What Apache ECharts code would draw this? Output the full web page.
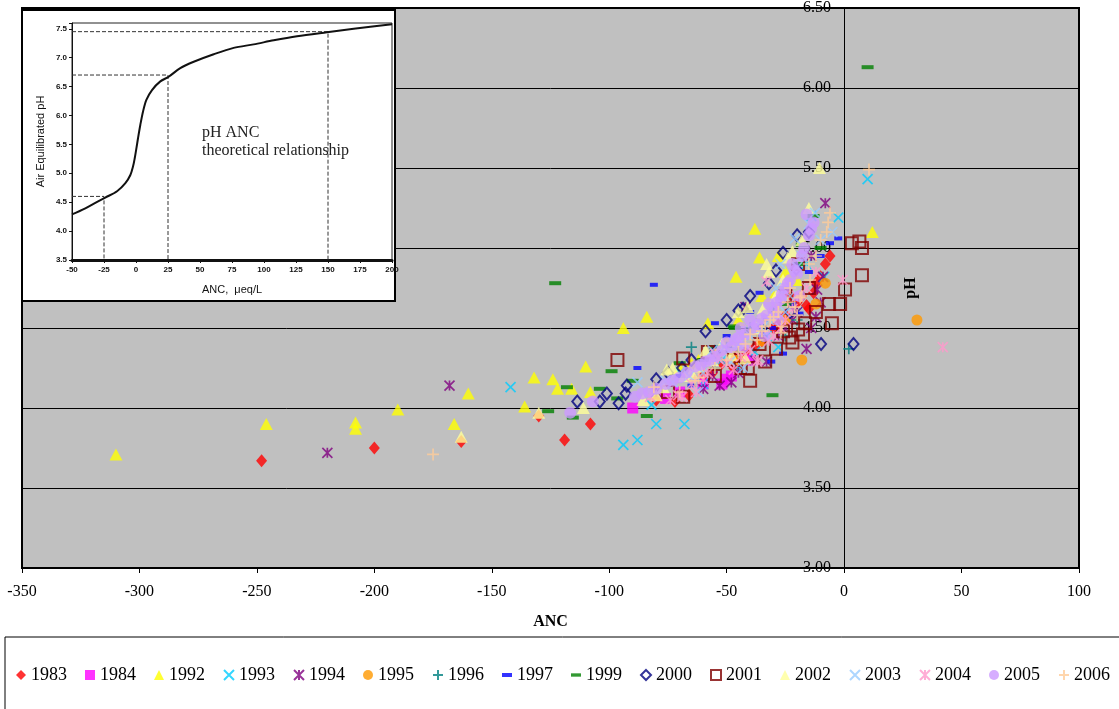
<!DOCTYPE html>
<html><head><meta charset="utf-8">
<script src="https://cdn.jsdelivr.net/npm/echarts@6/dist/echarts.min.js"></script>
<style>html,body{margin:0;padding:0;background:#fff}#c{width:1119px;height:709px}</style>
</head><body><div id="c"></div>
<script>
// ---------- main chart data: [ANC, pH] ----------
const d1983 = [[-248,3.67],[-200,3.75],[-163,3.79],[-130,3.95],[-119,3.80],[-108,3.90],[-72,4.04],[-66,4.08],[-60,4.20],[-52,4.28],[-47,4.25],[-46,4.32],[-42,4.35],[-38,4.38],[-35,4.42],[-30,4.50],[-25,4.58],[-23,4.71],[-20,4.66],[-16,4.64],[-15,4.62],[-12,4.78],[-10,4.82],[-8,4.90],[-80,4.05],[-56,4.22],[-44,4.29],[-28,4.52],[-18,4.70],[-13,4.72],[-6,4.95]];
const d1984 = [[-90,4.00],[-76,4.06],[-52,4.15],[-50,4.18],[-48,4.20],[-40,4.30],[-70,4.10],[-60,4.15]];
const d1992 = [[-310,3.71],[-246,3.90],[-208,3.91],[-208,3.87],[-190,3.99],[-166,3.90],[-160,4.09],[-136,4.01],[-132,4.19],[-124,4.18],[-122,4.12],[-116,4.12],[-110,4.26],[-108,4.10],[-94,4.50],[-84,4.57],[-58,4.53],[-46,4.82],[-38,5.12],[-36,4.94],[12,5.10],[-70,4.25],[-62,4.30],[-55,4.35],[-30,4.70],[-25,4.85],[-20,4.80],[-45,4.55],[-35,4.70],[-50,4.42],[-28,4.95],[-65,4.28]];
const d1993 = [[-142,4.13],[-94,3.77],[-88,3.80],[-82,4.02],[-80,3.90],[-68,3.90],[-60,4.15],[-45,4.25],[-38,4.35],[-28,4.38],[-20,4.60],[-8.5,4.82],[-2.5,5.19],[10,5.43],[-14,5.20],[-70,4.22],[-52,4.30],[-33,4.45],[-16,4.90],[-24,4.75]];
const d1994 = [[-220,3.72],[-168,4.14],[-80,4.10],[-53,4.14],[-48,4.16],[-33,4.29],[-42,4.63],[-16,4.37],[-12,4.57],[-10,4.66],[-11.5,4.74],[-8,5.28],[-20,4.60],[-25,4.50],[-56,4.20],[-45,4.22],[-38,4.30],[-28,4.45],[-22,4.55],[-14,4.50],[-9,4.82],[-14,4.95],[-60,4.12]];
const d1995 = [[31,4.55],[-18,4.30],[-8,4.78],[-35,4.42],[-45,4.30],[-25,4.55],[-12,4.65]];
const d1996 = [[-65,4.38],[2,4.37],[-40,4.50],[-30,4.60],[-25,4.45],[-55,4.25],[-50,4.38],[-45,4.35],[-35,4.45],[-20,4.55]];
const d1997 = [[-81,4.77],[-88,4.25],[-65,4.14],[-55,4.53],[-50,4.45],[-36,4.72],[-31,4.29],[-26,4.34],[-19,4.59],[-6,5.03],[-2.5,5.06],[-45,4.40],[-40,4.60],[-70,4.20],[-60,4.30],[-30,4.50],[-22,4.65],[-15,4.85],[-10,4.95]];
const d1999 = [[10,6.13],[-123,4.78],[-99,4.23],[-118,4.13],[-126,3.98],[-115.5,3.94],[-104,4.12],[-96.6,4.06],[-84,3.95],[-90,4.17],[-47,4.51],[-46.5,4.50],[-30.5,4.08],[-13,5.20],[-18,5.02],[-60,4.30],[-35,4.55],[-70,4.28],[-55,4.38],[-40,4.48],[-25,4.65],[-20,4.90],[-10,5.00]];
const d2000 = [[-113.6,4.04],[-104,4.04],[-101,4.09],[-96,4.03],[-93,4.09],[-92.5,4.14],[-69,4.25],[-59,4.48],[-50,4.55],[-45,4.61],[-43,4.62],[-29,4.86],[-26,4.97],[-20,5.08],[-20.4,4.87],[-9.8,4.40],[4,4.40],[-35,4.50],[-65,4.30],[-80,4.18],[-75,4.22],[-55,4.35],[-40,4.70],[-32,4.78],[-15,5.10],[-23,4.60]];
const d2001 = [[-96.5,4.30],[-68.5,4.31],[-68.5,4.07],[-44,4.25],[-41,4.25],[-33.6,4.29],[-29,4.37],[-23.4,4.44],[-22,4.41],[-19.6,4.49],[-17.5,4.46],[-16.6,4.53],[-19.6,4.90],[-6.4,4.65],[-5.2,4.53],[-1.7,4.65],[0.4,4.74],[3.3,5.03],[6.5,5.04],[7.6,5.00],[7.6,4.83],[-40,4.17],[-58,4.35],[-75,4.10],[-55,4.20],[-47,4.30],[-36,4.40],[-26,4.48],[-12,4.60],[-15,4.75],[-25,4.70]];
const d2002 = [[-163,3.82],[-130,3.97],[-111,4.00],[-85.6,4.05],[-77,4.13],[-75.5,4.24],[-73,4.25],[-59,4.36],[-42,4.31],[-41,4.63],[-34.5,4.62],[-32,4.85],[-29,4.70],[-28,4.70],[-24,4.94],[-15,5.25],[-10.5,5.50],[-52,4.40],[-65,4.22],[-38,4.50],[-80,4.08],[-68,4.20],[-62,4.26],[-56,4.30],[-48,4.33],[-45,4.42],[-36,4.56],[-26,4.80],[-22,4.98],[-18,5.05],[-33,4.90],[-45,4.60]];
const d2003 = [[-88,4.16],[-76,4.17],[-73,4.16],[-56,4.36],[-51,4.38],[-48.5,4.29],[-43,4.25],[-29,4.75],[-21,5.06],[-20,4.88],[-15,5.15],[-12.4,5.22],[-35,4.50],[-25,4.60],[-40,4.45],[-5,5.10],[-66,4.20],[-60,4.22],[-53,4.30],[-45,4.40],[-32,4.55],[-23,4.70],[-18,4.95],[-10,5.05],[-27,4.90],[-62,4.10]];
const d2004 = [[42,4.38],[-0.6,4.80],[-82.6,4.07],[-74,4.05],[-70.7,4.08],[-69,4.07],[-63,4.10],[-55,4.34],[-53.6,4.31],[-47,4.24],[-40,4.36],[-37,4.29],[-36.6,4.30],[-33,4.79],[-28.6,4.62],[-25,4.55],[-20,4.70],[-30,4.45],[-60,4.18],[-50,4.28],[-44,4.32],[-32,4.42],[-27,4.50],[-22,4.62],[-16,4.75],[-12,4.85],[-65,4.15],[-58,4.22]];
const d2005 = [[-116.6,3.97],[-107,4.04],[-89,4.07],[-86,4.09],[-83,4.10],[-70,4.19],[-63.4,4.26],[-59,4.29],[-52,4.36],[-50,4.41],[-46.4,4.425],[-42,4.46],[-38.7,4.50],[-35,4.56],[-28.6,4.66],[-26.5,4.71],[-25,4.75],[-23,4.80],[-20,4.84],[-15,5.08],[-13,5.16],[-16,5.21],[-30,4.60],[-40,4.55],[-55,4.32],[-44,4.50],[-32,4.65],[-22,4.90],[-80,4.12],[-76,4.15],[-73,4.17],[-67,4.22],[-61,4.27],[-57,4.30],[-48,4.38],[-45,4.44],[-37,4.52],[-33,4.58],[-27,4.68],[-24,4.78],[-21,4.86],[-18,4.95],[-17,5.00],[-14,5.12],[-19,4.70],[-34,4.45],[-43,4.38],[-28,4.55]];
const d2006 = [[-175,3.71],[10.6,5.49],[-81,4.13],[-63.5,4.17],[-62,4.19],[-37,4.425],[-35,4.48],[-33.6,4.51],[-31.5,4.55],[-30,4.57],[-27,4.47],[-26.5,4.51],[-21,4.63],[-18.7,4.69],[-18,4.70],[-14.5,4.80],[-15,4.90],[-7.4,5.10],[-6.8,5.16],[-6,5.22],[-45,4.35],[-50,4.30],[-70,4.10],[-55,4.25],[-42,4.40],[-40,4.46],[-28,4.60],[-24,4.66],[-23,4.75],[-12,4.95],[-10,5.05],[-20,4.58]];

const years = ['1983','1984','1992','1993','1994','1995','1996','1997','1999','2000','2001','2002','2003','2004','2005','2006'];
const seriesData = [d1983,d1984,d1992,d1993,d1994,d1995,d1996,d1997,d1999,d2000,d2001,d2002,d2003,d2004,d2005,d2006];
const xTicks = {min:-350, max:100, step:50};
const yTicks = {min:3, max:6.5, step:0.5};

// ---------- inset (theoretical curve) data ----------
const insetCurve = [[-50,4.29],[-40,4.39],[-30,4.51],[-24,4.58],[-14.8,4.69],[-8.3,4.83],[-4.4,4.97],[-2.3,5.12],[-1,5.26],[0.3,5.43],[1.6,5.61],[3.4,5.84],[5.5,6.07],[8.1,6.27],[12.5,6.44],[19,6.59],[25.5,6.67],[34.6,6.82],[45.1,6.93],[60.7,7.06],[76.3,7.17],[91.9,7.23],[107.6,7.30],[125.8,7.37],[149.2,7.44],[170.1,7.50],[200,7.58]];
const insetRefs = [[-25,4.6],[25,6.7],[150,7.45]];
const insetX = {min:-50, max:200, step:25};
const insetY = {min:3.5, max:7.6, step:0.5};

// ---------- styles ----------
const X_PATH = 'path://M0,0L10,10M10,0L0,10';
const PLUS_PATH = 'path://M5,0L5,10M0,5L10,5';
const AST_PATH = 'path://M0,0L10,10M10,0L0,10M5,0L5,10';
const styles = [
  {c:'#FF0000', s:'diamond', z:[11,13]},
  {c:'#FF00FF', s:'rect', z:11},
  {c:'#FFFF00', s:'triangle', z:[13,12]},
  {c:'#00CCFF', s:X_PATH, z:10, line:true},
  {c:'#800080', s:AST_PATH, z:10, line:true},
  {c:'#FF9900', s:'circle', z:11},
  {c:'#008080', s:PLUS_PATH, z:11, line:true},
  {c:'#0000FF', s:'rect', z:[8,4], icon:'path://M0,0h10v4h-10z'},
  {c:'#008000', s:'rect', z:[12,4], icon:'path://M0,0h12v4h-12z'},
  {c:'#000080', s:'diamond', z:[10,12], hollow:true},
  {c:'#800000', s:'rect', z:12, hollow:true},
  {c:'#FFFF99', s:'triangle', z:[13,12]},
  {c:'#99CCFF', s:X_PATH, z:10, line:true},
  {c:'#FF99CC', s:AST_PATH, z:10, line:true},
  {c:'#CC99FF', s:'circle', z:12},
  {c:'#FFCC99', s:PLUS_PATH, z:12, line:true}
];

const serif = '"Liberation Serif","Times New Roman",serif';
const sans = '"Liberation Sans",Arial,sans-serif';

const mainSeries = years.map((y,i) => {
  const st = styles[i];
  let itemStyle;
  if (st.line) itemStyle = {color: st.c, borderColor: st.c, borderWidth: 1.7};
  else if (st.hollow) itemStyle = {color: 'rgba(0,0,0,0)', borderColor: st.c, borderWidth: 2};
  else itemStyle = {color: st.c, borderWidth: 0};
  return {
    name: y, type: 'scatter', xAxisIndex: 0, yAxisIndex: 0,
    symbol: st.s, symbolSize: st.z, itemStyle: itemStyle,
    data: seriesData[i], z: 2 + i * 0.01, emphasis: {disabled: true}
  };
});

const refSeries = insetRefs.map(p => ({
  type: 'line', xAxisIndex: 1, yAxisIndex: 1, zlevel: 1, z: 4, symbol: 'none', silent: true,
  lineStyle: {color: '#333', width: 1, type: [4, 2]},
  data: [[insetX.min, p[1]], [p[0], p[1]], [p[0], insetY.min]]
}));

// main grid pixel box (left/right edges) used to place the y axis at ANC = 0
const gridLeft = 22, gridRight = 40, chartW = 1119;
const zeroOffset = -((0 - xTicks.min) / (xTicks.max - xTicks.min)) * (chartW - gridLeft - gridRight);

const option = {
  animation: false,
  backgroundColor: '#fff',
  grid: [
    {left: gridLeft, right: gridRight, top: 8, bottom: 141, show: true, backgroundColor: '#C0C0C0', borderColor: '#000', borderWidth: 2, z: 0, outerBoundsMode: 'none', containLabel: false},
    {left: 72, width: 320, top: 23, height: 237, show: true, backgroundColor: '#fff', borderColor: '#222', borderWidth: 1, zlevel: 1, z: 2, outerBoundsMode: 'none', containLabel: false}
  ],
  xAxis: [
    {type: 'value', gridIndex: 0, min: xTicks.min, max: xTicks.max, interval: xTicks.step,
     splitLine: {show: false},
     axisLine: {onZero: false, lineStyle: {color: '#000', width: 2}},
     axisTick: {length: 5, lineStyle: {color: '#000'}},
     axisLabel: {color: '#000', fontFamily: serif, fontSize: 16, margin: 16},
     name: 'ANC', nameLocation: 'middle', nameGap: 46, nameMoveOverlap: false,
     nameTextStyle: {color: '#000', fontFamily: serif, fontSize: 16, fontWeight: 'bold'}},
    {type: 'value', gridIndex: 1, min: insetX.min, max: insetX.max, interval: insetX.step, zlevel: 1, z: 3,
     splitLine: {show: false},
     axisLine: {onZero: false, lineStyle: {color: '#111', width: 3}},
     axisTick: {length: 3, lineStyle: {color: '#111'}},
     axisLabel: {color: '#111', fontFamily: sans, fontSize: 8, fontWeight: 'bold', margin: 6},
     name: 'ANC,  \u03bceq/L', nameLocation: 'middle', nameGap: 24, nameMoveOverlap: false,
     nameTextStyle: {color: '#111', fontFamily: sans, fontSize: 11}}
  ],
  yAxis: [
    {type: 'value', gridIndex: 0, min: yTicks.min, max: yTicks.max, interval: yTicks.step,
     position: 'left', offset: zeroOffset,
     splitLine: {show: true, lineStyle: {color: '#000', width: 1}},
     axisLine: {show: true, onZero: false, lineStyle: {color: '#000', width: 1}},
     axisTick: {show: true, length: 5, lineStyle: {color: '#000'}},
     axisLabel: {color: '#000', fontFamily: serif, fontSize: 16, margin: 13, formatter: v => v.toFixed(2)},
     name: 'pH', nameLocation: 'middle', nameGap: -75, nameRotate: 90, nameMoveOverlap: false,
     nameTextStyle: {color: '#000', fontFamily: serif, fontSize: 16, fontWeight: 'bold'}},
    {type: 'value', gridIndex: 1, min: insetY.min, max: insetY.max, interval: insetY.step, zlevel: 1, z: 3,
     splitLine: {show: false},
     axisLine: {show: true, onZero: false, lineStyle: {color: '#111', width: 1}},
     axisTick: {show: true, length: 3, lineStyle: {color: '#111'}},
     axisLabel: {color: '#111', fontFamily: sans, fontSize: 8, fontWeight: 'bold', margin: 5,
       formatter: v => (Math.abs(v * 2 - Math.round(v * 2)) < 1e-6 ? v.toFixed(1) : '')},
     name: 'Air Equilibrated pH', nameLocation: 'middle', nameGap: 26, nameMoveOverlap: false,
     nameTextStyle: {color: '#111', fontFamily: sans, fontSize: 11}}
  ],
  legend: {
    left: 16, top: 666, padding: 0, itemGap: 18, itemWidth: 10, itemHeight: 10,
    textStyle: {color: '#000', fontFamily: serif, fontSize: 18},
    data: years.map((y,i) => styles[i].icon ? {name: y, icon: styles[i].icon} : {name: y}),
    selectedMode: false
  },
  graphic: [
    {type: 'rect', zlevel: 0, z: 0, silent: true, shape: {x: 5, y: 637, width: 1130, height: 90},
     style: {fill: 'rgba(0,0,0,0)', stroke: '#000', lineWidth: 1}},
    {type: 'rect', zlevel: 1, z: 1, silent: true, shape: {x: 22, y: 10, width: 373, height: 291},
     style: {fill: '#fff', stroke: '#000', lineWidth: 2}},
    {type: 'text', zlevel: 1, z: 10, silent: true, left: 202, top: 124,
     style: {text: 'pH ANC\ntheoretical relationship', fill: '#222', font: '16px ' + serif, lineHeight: 18}}
  ],
  series: mainSeries.concat(refSeries).concat([
    {type: 'line', xAxisIndex: 1, yAxisIndex: 1, zlevel: 1, z: 5, symbol: 'none', smooth: 0.3, silent: true,
     lineStyle: {color: '#111', width: 2}, data: insetCurve}
  ])
};

const chart = echarts.init(document.getElementById('c'), null, {renderer: 'canvas'});
chart.setOption(option);
</script></body></html>
